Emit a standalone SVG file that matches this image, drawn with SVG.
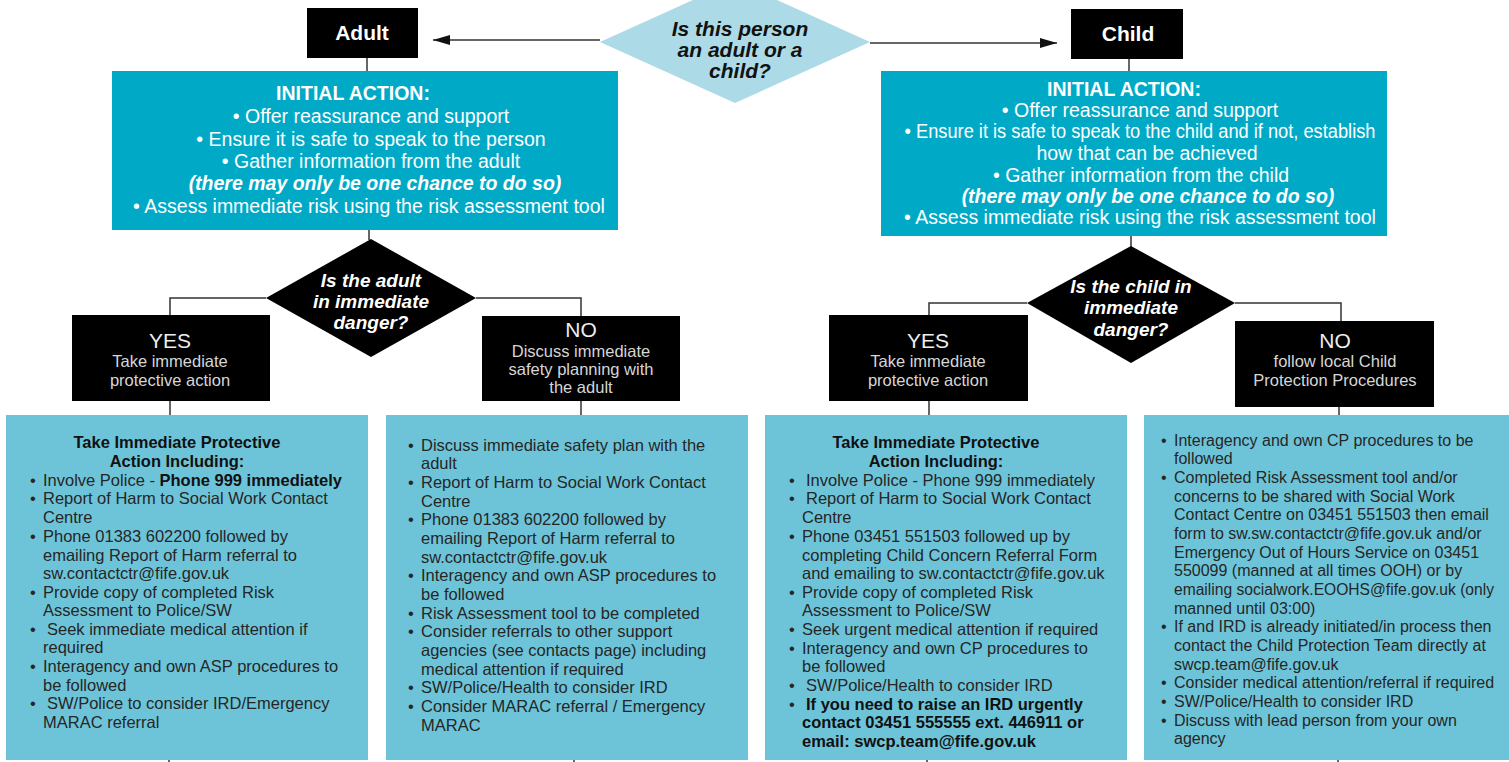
<svg xmlns="http://www.w3.org/2000/svg" width="1509" height="762" viewBox="0 0 1509 762">
<defs>
<marker id="arr" viewBox="0 0 17 10" refX="17" refY="5" markerWidth="17" markerHeight="10" markerUnits="userSpaceOnUse" orient="auto">
<path d="M0,0 L17,5 L0,10 z" fill="#111"/>
</marker>
</defs>
<style>
text{font-family:"Liberation Sans",Arial,sans-serif}
.lbl{font-size:21px;font-weight:bold;fill:#fff;text-anchor:middle}
.ia{font-size:19.5px;fill:#fff;text-anchor:middle}
.iah{font-size:19.5px;fill:#fff;font-weight:bold;text-anchor:middle}
.iai{font-size:19.5px;fill:#fff;font-weight:bold;font-style:italic;text-anchor:middle}
.dq{font-size:19px;fill:#fff;font-weight:bold;font-style:italic;text-anchor:middle}
.tq{font-size:21px;fill:#111;font-weight:bold;font-style:italic;text-anchor:middle}
.yn{font-size:21px;fill:#eee;text-anchor:middle}
.ys{font-size:16.5px;fill:#d6d6d6;text-anchor:middle}
.bt{font-size:16.5px;fill:#262626}
.bt4{font-size:16px;fill:#262626}
.bb{font-size:16.5px;fill:#111;font-weight:bold}
.bh{font-size:16.5px;fill:#111;font-weight:bold;text-anchor:middle}
.blk{fill:#000}
.ini{fill:#00aac7}
.det{fill:#6dc4d9}
.con{stroke:#333;stroke-width:1.5;fill:none}
</style>

<g id="connectors">
<line class="con" x1="600" y1="40" x2="433" y2="40" marker-end="url(#arr)"/>
<line class="con" x1="870" y1="43" x2="1057" y2="43" marker-end="url(#arr)"/>
<line class="con" x1="367" y1="58" x2="367" y2="71"/>
<line class="con" x1="1129" y1="59" x2="1129" y2="71"/>
<line class="con" x1="369" y1="230" x2="369" y2="240"/>
<line class="con" x1="1131" y1="236" x2="1131" y2="247"/>
<polyline class="con" points="266,298 170,298 170,315"/>
<polyline class="con" points="476,298 581,298 581,316"/>
<line class="con" x1="170" y1="401" x2="170" y2="415"/>
<line class="con" x1="581" y1="401" x2="581" y2="415"/>
<polyline class="con" points="1027,303 929,303 929,315"/>
<polyline class="con" points="1235,303 1341,303 1341,321"/>
<line class="con" x1="929" y1="401" x2="929" y2="415"/>
<line class="con" x1="1339" y1="407" x2="1339" y2="415"/>
<line class="con" x1="169" y1="760" x2="169" y2="762"/>
<line class="con" x1="574" y1="760" x2="574" y2="762"/>
<line class="con" x1="927" y1="760" x2="927" y2="762"/>
<line class="con" x1="1338" y1="760" x2="1338" y2="762"/>
</g>

<g id="question">
<polygon points="600,42 735,-19 870,42 735,103" fill="#acdae6"/>
<text class="tq" x="740" y="36">Is this person</text>
<text class="tq" x="740" y="57">an adult or a</text>
<text class="tq" x="740" y="78">child?</text>
</g>

<g id="adult">
<rect class="blk" x="307" y="8" width="111" height="50"/>
<text class="lbl" x="362" y="40">Adult</text>
</g>

<g id="child">
<rect class="blk" x="1071" y="9" width="112" height="50"/>
<text class="lbl" x="1128" y="41">Child</text>
</g>

<g id="adult-initial">
<rect class="ini" x="112" y="71" width="506" height="159"/>
<text class="iah" x="353" y="100">INITIAL ACTION:</text>
<text class="ia" x="371" y="123">• Offer reassurance and support</text>
<text class="ia" x="371" y="146">• Ensure it is safe to speak to the person</text>
<text class="ia" x="371" y="168">• Gather information from the adult</text>
<text class="iai" x="375" y="190">(there may only be one chance to do so)</text>
<text class="ia" x="369" y="213">• Assess immediate risk using the risk assessment tool</text>
</g>

<g id="child-initial">
<rect class="ini" x="881" y="71" width="506" height="165"/>
<text class="iah" x="1124" y="96">INITIAL ACTION:</text>
<text class="ia" x="1140" y="117">• Offer reassurance and support</text>
<text class="ia" x="1140" y="138" textLength="471" lengthAdjust="spacingAndGlyphs">• Ensure it is safe to speak to the child and if not, establish</text>
<text class="ia" x="1147" y="160">how that can be achieved</text>
<text class="ia" x="1141" y="182">• Gather information from the child</text>
<text class="iai" x="1148" y="203">(there may only be one chance to do so)</text>
<text class="ia" x="1140" y="224">•  Assess immediate risk using the risk assessment tool</text>
</g>

<g id="adult-danger">
<polygon class="blk" points="266,298 371,239 476,298 371,357"/>
<text class="dq" x="371" y="287">Is the adult</text>
<text class="dq" x="371" y="308">in immediate</text>
<text class="dq" x="371" y="329">danger?</text>
</g>

<g id="child-danger">
<polygon class="blk" points="1027,303 1131,246 1235,303 1131,363"/>
<text class="dq" x="1131" y="293">Is the child in</text>
<text class="dq" x="1131" y="314">immediate</text>
<text class="dq" x="1131" y="336">danger?</text>
</g>

<g id="adult-yes">
<rect class="blk" x="72" y="315" width="198" height="86"/>
<text class="yn" x="170" y="348">YES</text>
<text class="ys" x="170" y="367">Take immediate</text>
<text class="ys" x="170" y="386">protective action</text>
</g>

<g id="adult-no">
<rect class="blk" x="482" y="316" width="198" height="85"/>
<text class="yn" x="581" y="337">NO</text>
<text class="ys" x="581" y="357">Discuss immediate</text>
<text class="ys" x="581" y="375">safety planning with</text>
<text class="ys" x="581" y="393">the adult</text>
</g>

<g id="child-yes">
<rect class="blk" x="829" y="315" width="199" height="86"/>
<text class="yn" x="928" y="348">YES</text>
<text class="ys" x="928" y="367">Take immediate</text>
<text class="ys" x="928" y="386">protective action</text>
</g>

<g id="child-no">
<rect class="blk" x="1235" y="321" width="199" height="86"/>
<text class="yn" x="1335" y="348">NO</text>
<text class="ys" x="1335" y="367">follow local Child</text>
<text class="ys" x="1335" y="386">Protection Procedures</text>
</g>

<g id="adult-yes-detail">
<rect class="det" x="6" y="415" width="362" height="345"/>
<text class="bh" x="177" y="448">Take Immediate Protective</text>
<text class="bh" x="177" y="467">Action Including:</text>
<text class="bt" x="30" y="486">•</text><text class="bt" x="43" y="486">Involve Police - <tspan font-weight="bold" fill="#111">Phone 999 immediately</tspan></text>
<text class="bt" x="30" y="504">•</text><text class="bt" x="43" y="504">Report of Harm to Social Work Contact</text>
<text class="bt" x="43" y="523">Centre</text>
<text class="bt" x="30" y="542">•</text><text class="bt" x="43" y="542">Phone 01383 602200 followed by</text>
<text class="bt" x="43" y="561">emailing Report of Harm referral to</text>
<text class="bt" x="43" y="579">sw.contactctr@fife.gov.uk</text>
<text class="bt" x="30" y="598">•</text><text class="bt" x="43" y="598">Provide copy of completed Risk</text>
<text class="bt" x="43" y="616">Assessment to Police/SW</text>
<text class="bt" x="30" y="635">•</text><text class="bt" x="47" y="635">Seek immediate medical attention if</text>
<text class="bt" x="43" y="653">required</text>
<text class="bt" x="30" y="672">•</text><text class="bt" x="43" y="672">Interagency and own ASP procedures to</text>
<text class="bt" x="43" y="691">be followed</text>
<text class="bt" x="30" y="709">•</text><text class="bt" x="47" y="709">SW/Police to consider IRD/Emergency</text>
<text class="bt" x="43" y="728">MARAC referral</text>
</g>

<g id="adult-no-detail">
<rect class="det" x="386" y="415" width="362" height="345"/>
<text class="bt" x="408" y="451">•</text><text class="bt" x="421" y="451">Discuss immediate safety plan with the</text>
<text class="bt" x="421" y="469">adult</text>
<text class="bt" x="408" y="488">•</text><text class="bt" x="421" y="488">Report of Harm to Social Work Contact</text>
<text class="bt" x="421" y="507">Centre</text>
<text class="bt" x="408" y="525">•</text><text class="bt" x="421" y="525">Phone 01383 602200 followed by</text>
<text class="bt" x="421" y="544">emailing Report of Harm referral to</text>
<text class="bt" x="421" y="563">sw.contactctr@fife.gov.uk</text>
<text class="bt" x="408" y="581">•</text><text class="bt" x="421" y="581">Interagency and own ASP procedures to</text>
<text class="bt" x="421" y="600">be followed</text>
<text class="bt" x="408" y="619">•</text><text class="bt" x="421" y="619">Risk Assessment tool to be completed</text>
<text class="bt" x="408" y="637">•</text><text class="bt" x="421" y="637">Consider referrals to other support</text>
<text class="bt" x="421" y="656">agencies (see contacts page) including</text>
<text class="bt" x="421" y="675">medical attention if required</text>
<text class="bt" x="408" y="693">•</text><text class="bt" x="421" y="693">SW/Police/Health to consider IRD</text>
<text class="bt" x="408" y="712">•</text><text class="bt" x="421" y="712">Consider MARAC referral / Emergency</text>
<text class="bt" x="421" y="731">MARAC</text>
</g>

<g id="child-yes-detail">
<rect class="det" x="765" y="415" width="362" height="345"/>
<text class="bh" x="936" y="448">Take Immediate Protective</text>
<text class="bh" x="936" y="467">Action Including:</text>
<text class="bt" x="789" y="486">•</text><text class="bt" x="806" y="486">Involve Police - Phone 999 immediately</text>
<text class="bt" x="789" y="504">•</text><text class="bt" x="806" y="504">Report of Harm to Social Work Contact</text>
<text class="bt" x="802" y="523">Centre</text>
<text class="bt" x="789" y="542">•</text><text class="bt" x="802" y="542">Phone 03451 551503 followed up by</text>
<text class="bt" x="802" y="561">completing Child Concern Referral Form</text>
<text class="bt" x="802" y="579">and emailing to sw.contactctr@fife.gov.uk</text>
<text class="bt" x="789" y="598">•</text><text class="bt" x="802" y="598">Provide copy of completed Risk</text>
<text class="bt" x="802" y="616">Assessment to Police/SW</text>
<text class="bt" x="789" y="635">•</text><text class="bt" x="802" y="635">Seek urgent medical attention if required</text>
<text class="bt" x="789" y="654">•</text><text class="bt" x="802" y="654">Interagency and own CP procedures to</text>
<text class="bt" x="802" y="672">be followed</text>
<text class="bt" x="789" y="691">•</text><text class="bt" x="806" y="691">SW/Police/Health to consider IRD</text>
<text class="bt" x="789" y="710">•</text><text class="bb" x="806" y="710">If you need to raise an IRD urgently</text>
<text class="bb" x="802" y="728">contact 03451 555555 ext. 446911 or</text>
<text class="bb" x="802" y="747">email: swcp.team@fife.gov.uk</text>
</g>

<g id="child-no-detail">
<rect class="det" x="1144" y="415" width="365" height="345"/>
<text class="bt4" x="1161" y="446">•</text><text class="bt4" x="1174" y="446">Interagency and own CP procedures to be</text>
<text class="bt4" x="1174" y="464">followed</text>
<text class="bt4" x="1161" y="483">•</text><text class="bt4" x="1174" y="483">Completed Risk Assessment tool and/or</text>
<text class="bt4" x="1174" y="502">concerns to be shared with Social Work</text>
<text class="bt4" x="1174" y="520">Contact Centre on 03451 551503 then email</text>
<text class="bt4" x="1174" y="539">form to sw.sw.contactctr@fife.gov.uk and/or</text>
<text class="bt4" x="1174" y="558">Emergency Out of Hours Service on 03451</text>
<text class="bt4" x="1174" y="576">550099 (manned at all times OOH) or by</text>
<text class="bt4" x="1174" y="595" textLength="320" lengthAdjust="spacingAndGlyphs">emailing socialwork.EOOHS@fife.gov.uk (only</text>
<text class="bt4" x="1174" y="614">manned until 03:00)</text>
<text class="bt4" x="1161" y="632">•</text><text class="bt4" x="1174" y="632">If and IRD is already initiated/in process then</text>
<text class="bt4" x="1174" y="651">contact the Child Protection Team directly at</text>
<text class="bt4" x="1174" y="670">swcp.team@fife.gov.uk</text>
<text class="bt4" x="1161" y="688">•</text><text class="bt4" x="1174" y="688">Consider medical attention/referral if required</text>
<text class="bt4" x="1161" y="707">•</text><text class="bt4" x="1174" y="707">SW/Police/Health to consider IRD</text>
<text class="bt4" x="1161" y="726">•</text><text class="bt4" x="1174" y="726">Discuss with lead person from your own</text>
<text class="bt4" x="1174" y="744">agency</text>
</g>
</svg>
